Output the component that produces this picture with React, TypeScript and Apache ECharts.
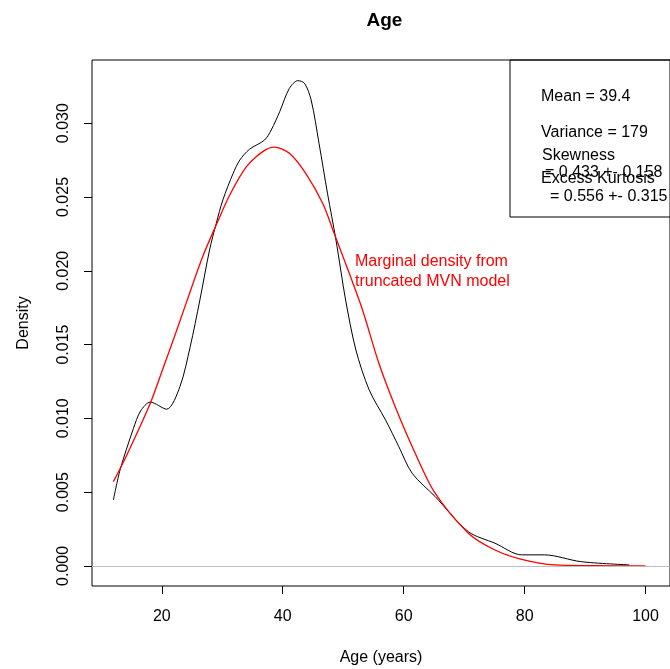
import React, { useEffect, useRef } from 'react';
import * as echarts from 'echarts';

// kernel density estimate of age (black)
const kdeAge = [12.0, 13.1, 15.3, 16.5, 18.1, 20.8, 23.0, 24.7, 26.3, 27.9, 29.0, 30.1, 31.8, 32.9, 34.5, 37.0, 38.1, 39.5, 41.1, 42.5, 43.6, 44.7, 46.0, 47.4, 48.8, 50.4, 52.1, 54.3, 57.0, 59.2, 61.4, 65.2, 70.7, 75.1, 79.5, 83.3, 89.3, 97.3];
const kdeDensity = [0.00447, 0.0065, 0.0093, 0.0105, 0.0111, 0.01062, 0.01215, 0.01486, 0.01802, 0.02141, 0.0232, 0.0248, 0.0266, 0.0275, 0.02823, 0.02886, 0.02954, 0.03078, 0.03236, 0.03288, 0.0327, 0.03157, 0.02864, 0.02525, 0.02209, 0.01802, 0.01463, 0.01192, 0.00989, 0.00808, 0.00628, 0.0047, 0.00232, 0.00154, 0.00075, 0.00075, 0.00029, 0.00007];

// marginal density from truncated MVN model (red)
const mvnAge = [12.0, 14.2, 18.1, 20.3, 22.5, 24.7, 26.8, 29.0, 31.2, 34.0, 36.7, 38.6, 41.1, 43.8, 46.6, 48.5, 51.0, 53.2, 55.9, 58.6, 61.9, 65.2, 70.7, 75.1, 79.5, 85.0, 91.5, 100.0];
const mvnDensity = [0.00571, 0.0075, 0.01102, 0.0135, 0.0160, 0.0186, 0.0210, 0.0231, 0.0251, 0.02705, 0.02807, 0.02837, 0.02796, 0.0266, 0.02457, 0.02254, 0.01983, 0.01734, 0.01373, 0.01079, 0.00764, 0.00493, 0.00222, 0.00108, 0.00045, 0.00007, 0.00002, 0.0];

const xTicks = [20, 40, 60, 80, 100];
const yTicks = [0, 0.005, 0.01, 0.015, 0.02, 0.025, 0.03];

const statLines = ['Mean = 39.4', 'Variance = 179', 'Skewness', '= 0.433 +- 0.158', 'Excess Kurtosis', '= 0.556 +- 0.315'];
const noteLines = ['Marginal density from', 'truncated MVN model'];

const FONT = '"Liberation Sans", Arial, sans-serif';

const App: React.FC = () => {
  const ref = useRef<HTMLDivElement>(null);

  useEffect(() => {
    if (!ref.current) return;
    const chart = echarts.init(ref.current, undefined, { renderer: 'svg' });

    const statPos = [
      [541, 95.5], [541, 131.7], [542, 154], [545, 171.7], [541, 177.5], [550, 195]
    ];
    const txt = (s: string, x: number, y: number, color = '#000') => ({
      type: 'text', x, y, silent: true,
      style: { text: s, fill: color, font: `16px ${FONT}`, verticalAlign: 'middle' }
    });

    chart.setOption({
      animation: false,
      grid: { left: 92, top: 60, width: 581, height: 526, show: true, borderColor: '#000', borderWidth: 1, backgroundColor: 'transparent' },
      xAxis: {
        type: 'value', min: 8.46, max: 104.04,
        axisLine: { show: false, onZero: false }, splitLine: { show: false },
        axisTick: { show: true, customValues: xTicks, length: 8, lineStyle: { color: '#000' } },
        axisLabel: { customValues: xTicks, margin: 21, fontSize: 16, color: '#000', fontFamily: FONT },
        name: 'Age (years)', nameLocation: 'middle', nameGap: 62,
        nameTextStyle: { fontSize: 16, color: '#000', fontFamily: FONT }
      },
      yAxis: {
        type: 'value', min: -0.00136, max: 0.03428,
        axisLine: { show: false, onZero: false }, splitLine: { show: false },
        axisTick: { show: true, customValues: yTicks, length: 8, lineStyle: { color: '#000' } },
        axisLabel: {
          customValues: yTicks, rotate: 90, margin: 22, fontSize: 16, color: '#000', fontFamily: FONT,
          formatter: (v: number) => v.toFixed(3)
        },
        name: 'Density', nameLocation: 'middle', nameGap: 62, nameRotate: 90,
        nameTextStyle: { fontSize: 16, color: '#000', fontFamily: FONT }
      },
      series: [
        {
          type: 'line', showSymbol: false, smooth: 0.3, z: 3,
          data: kdeAge.map((a, i) => [a, kdeDensity[i]]),
          lineStyle: { color: '#000', width: 1 },
          markLine: {
            silent: true, symbol: ['none', 'none'], label: { show: false },
            lineStyle: { color: '#bebebe', type: 'solid', width: 1 },
            data: [{ yAxis: 0 }]
          }
        },
        {
          type: 'line', showSymbol: false, smooth: 0.3, z: 4,
          data: mvnAge.map((a, i) => [a, mvnDensity[i]]),
          lineStyle: { color: '#ff0000', width: 1.3 }
        }
      ],
      graphic: [
        {
          type: 'text', x: 384.5, y: 19.5, silent: true,
          style: { text: 'Age', fill: '#000', font: `bold 19px ${FONT}`, textAlign: 'center', verticalAlign: 'middle' }
        },
        {
          type: 'rect', silent: true, shape: { x: 510, y: 60, width: 200, height: 157 },
          style: { fill: 'none', stroke: '#000', lineWidth: 1 }
        },
        ...statLines.map((s, i) => txt(s, statPos[i][0], statPos[i][1])),
        ...noteLines.map((s, i) => txt(s, 355, 260.8 + i * 20, '#ff0000'))
      ]
    });

    return () => { chart.dispose(); };
  }, []);

  return <div ref={ref} style={{ position: 'fixed', left: 0, top: 0, width: 670, height: 669 }} />;
};

export default App;
